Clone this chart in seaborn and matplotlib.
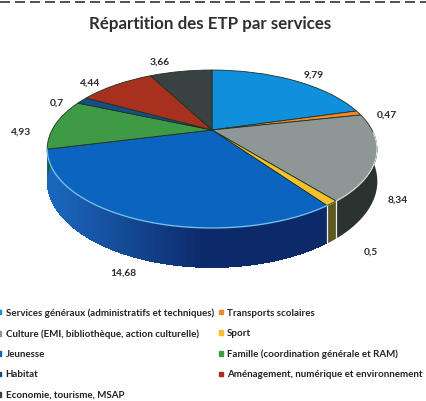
import numpy as np
import matplotlib
matplotlib.use("Agg")
import matplotlib.pyplot as plt
from matplotlib.colors import to_rgb
from matplotlib.patches import Rectangle
from matplotlib.transforms import Transform
import seaborn as sns

title = "Répartition des ETP par services"
categories = ["Services généraux (administratifs et techniques)", "Transports scolaires",
              "Culture (EMI, bibliothèque, action culturelle)", "Sport", "Jeunesse",
              "Famille (coordination générale et RAM)", "Habitat",
              "Aménagement, numérique et environnement", "Economie, tourisme, MSAP"]
values = [9.79, 0.47, 8.34, 0.5, 14.68, 4.93, 0.7, 4.44, 3.66]
value_labels = ["9,79", "0,47", "8,34", "0,5", "14,68", "4,93", "0,7", "4,44", "3,66"]
top_colors = ["#0f8fdc", "#ef8a2a", "#8f9696", "#f2c12e", "#0a64c0", "#3f9a45", "#134f86", "#a8301f", "#3a4142"]
wall_colors = ["#0a4f85", "#8f5010", "#2a3330", "#5c5a20", "#0c2a6a", "#1d5a22", "#0a2c4f", "#5f1a10", "#20282a"]
wall_left = "#1b66bd"
label_xy = [(314, 75), (387, 115), (398, 200), (371, 252), (123, 273), (21, 132), (57, 103), (90, 83), (160, 62)]

sns.set_theme(style="white")
plt.rcParams["font.family"] = ["Lato", "DejaVu Sans"]

CX, CY, AX, AY, B, DEPTH = 212.0, 130.0, 160.0, 74.4, 0.2405, 30.0


class Tilt(Transform):
    input_dims = output_dims = 2
    has_inverse = False

    def transform_non_affine(self, xy):
        xy = np.asarray(xy, float)
        w = 1 + B * xy[:, 1]
        return np.column_stack([CX + AX * xy[:, 0] / w, CY - AY * xy[:, 1] / w])


fig = plt.figure(figsize=(4.27, 4.01), dpi=100)
ax = fig.add_axes([0, 0, 1, 1])

# side wall, built from the same shares as the pie
fracs = np.array(values) / sum(values)
edges = np.concatenate([[0], np.cumsum(fracs)]) * 2 * np.pi
for i, (a0, a1) in enumerate(zip(edges[:-1], edges[1:])):
    a = np.linspace(a0, a1, 90)
    ux, uy = np.sin(a), np.cos(a)
    w = 1 + B * uy
    keep = uy < -0.03
    if keep.sum() < 2:
        continue
    px = CX + AX * ux[keep] / w[keep]
    top = CY - AY * uy[keep] / w[keep]
    bot = top + DEPTH / w[keep]
    if i == 4:  # the big wedge's wall is lit from the left
        c0, c1 = np.array(to_rgb(wall_left)), np.array(to_rgb(wall_colors[i]))
        for j in range(len(px) - 1):
            t = np.clip((px[j] - 55) / 150, 0, 1)
            colour = c0 + (c1 - c0) * t
            # each strip reaches under the next one, so no seam shows between them
            ax.fill_between(px[j:j + 3], top[j:j + 3], bot[j:j + 3],
                            facecolor=colour, edgecolor="none", lw=0,
                            antialiased=False, zorder=1)
        ax.plot(px, top, color="#6fc0f5", lw=1.0, zorder=4)
    else:
        ax.fill_between(px, top, bot, color=wall_colors[i], lw=0, zorder=1)
        if i == 2:
            ax.plot(px, top, color="#d8e8ee", lw=0.8, zorder=4)
    if i == 3:
        ax.plot(px[[0, 0]], [top[0], bot[0]], color="#eeeeee", lw=0.9, zorder=4)
        ax.plot(px[[-1, -1]], [top[-1], bot[-1]], color="#eeeeee", lw=0.9, zorder=4)

wedges, _ = ax.pie(values, colors=top_colors, startangle=90, counterclock=False,
                   wedgeprops={"linewidth": 0.6, "edgecolor": "#20301f"})
tilt = Tilt()
for w_ in wedges:
    w_.set_transform(tilt + ax.transData)
    w_.set_zorder(3)

ax.set_aspect("auto")
ax.set_xlim(0, 427)
ax.set_ylim(401, 0)
ax.axis("off")

ax.text(210, 24, title, ha="center", va="center", fontsize=12.2, color="#2f2f2f", fontweight="bold")
for (x, y), s in zip(label_xy, value_labels):
    ax.text(x, y, s, ha="center", va="center", fontsize=7.4, color="#2a2a2a", fontweight="bold")

ax.hlines(1.5, 0, 427, color="#333333", lw=1.2, linestyles=(0, (6, 3)))

# legend: Excel fills it row by row, matplotlib column by column
order = [0, 2, 4, 6, 8, 1, 3, 5, 7]
handles = [Rectangle((0, 0), 1, 1, color=top_colors[i]) for i in order]
labels = [categories[i] for i in order]
ax.legend(handles, labels, ncol=2, frameon=False, loc="upper left",
          bbox_to_anchor=(-0.006, 0.232), handlelength=0.4, handleheight=0.4,
          handletextpad=0.45, labelspacing=1.18, columnspacing=0.5, borderpad=0, borderaxespad=0,
          labelcolor="#222222", prop={"family": "Lato", "weight": "bold", "size": 7.0})

fig.savefig("out.png", dpi=100)
